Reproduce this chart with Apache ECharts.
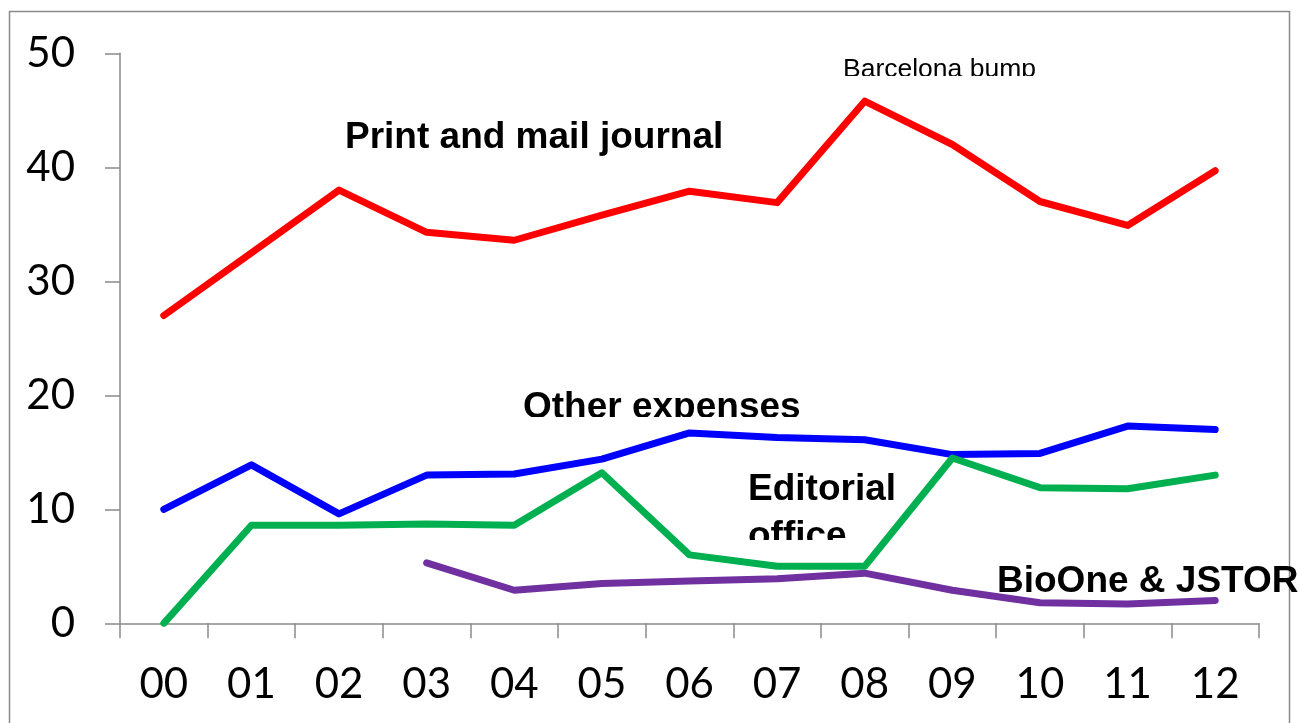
<!DOCTYPE html>
<html>
<head>
<meta charset="utf-8">
<title>Journal costs</title>
<script src="https://cdn.jsdelivr.net/npm/echarts@6/dist/echarts.min.js"></script>
<style>
  html, body { margin: 0; padding: 0; background: #ffffff; }
  #chart { width: 1301px; height: 723px; }
</style>
</head>
<body>
<div id="chart"></div>
<script>
// Years (two-digit) along the bottom
const years = ['00', '01', '02', '03', '04', '05', '06', '07', '08', '09', '10', '11', '12'];

// Cost lines
const printMail = [27.0, 32.5, 38.0, 34.3, 33.6, 35.8, 37.9, 36.9, 45.8, 42.0, 37.0, 34.9, 39.7];
const otherExpenses = [10.0, 13.9, 9.6, 13.0, 13.1, 14.4, 16.7, 16.3, 16.1, 14.8, 14.9, 17.3, 17.0];
const editorialOffice = [0.0, 8.6, 8.6, 8.7, 8.6, 13.2, 6.0, 5.0, 5.0, 14.5, 11.9, 11.8, 13.0];
const bioOneJstor = [null, null, null, 5.3, 2.9, 3.5, 3.7, 3.9, 4.4, 2.9, 1.8, 1.7, 2.0];

const yTicks = { min: 0, max: 50, interval: 10 };

const chart = echarts.init(document.getElementById('chart'), null, { renderer: 'canvas' });

const axisGray = '#8a8a8a';
const tickFont = { fontFamily: 'Lato', fontSize: 42, color: '#000000' };
const noteFont = 'bold 37px "Liberation Sans", Arial, sans-serif';

function line(name, data, color) {
  return {
    name: name,
    type: 'line',
    data: data,
    showSymbol: false,
    symbol: 'none',
    z: 3,
    lineStyle: { color: color, width: 7, cap: 'round', join: 'round' }
  };
}

// Annotation text; some boxes are cut off at their lower edge
function note(text, x, y, font) {
  return {
    type: 'text', x: x, y: y, z: 1, z2: 0,
    style: { text: text, font: font, fill: '#000000', align: 'left', verticalAlign: 'middle' }
  };
}
function mask(x, y, w, h) {
  return { type: 'rect', z: 1, z2: 5, shape: { x: x, y: y, width: w, height: h }, style: { fill: '#ffffff' } };
}

chart.setOption({
  animation: false,
  backgroundColor: '#ffffff',
  grid: { left: 120, right: 42, top: 53.3, bottom: 99.7, containLabel: false },
  xAxis: {
    type: 'category',
    data: years,
    boundaryGap: true,
    axisLine: { show: true, lineStyle: { color: axisGray, width: 1.5 } },
    axisTick: { show: true, inside: false, length: 15, alignWithLabel: false, lineStyle: { color: axisGray, width: 1.5 } },
    axisLabel: Object.assign({ margin: 40 }, tickFont),
    splitLine: { show: false }
  },
  yAxis: {
    type: 'value',
    min: yTicks.min,
    max: yTicks.max,
    interval: yTicks.interval,
    axisLine: { show: true, lineStyle: { color: axisGray, width: 1.5 } },
    axisTick: { show: true, inside: false, length: 15, lineStyle: { color: axisGray, width: 1.5 } },
    axisLabel: Object.assign({ margin: 45 }, tickFont),
    splitLine: { show: false }
  },
  series: [
    line('Print and mail journal', printMail, '#ff0000'),
    line('Other expenses', otherExpenses, '#0000ff'),
    line('Editorial office', editorialOffice, '#00b050'),
    line('BioOne & JSTOR', bioOneJstor, '#7030a0')
  ],
  graphic: [
    {
      type: 'rect', z: 0, z2: 0,
      shape: { x: 9.5, y: 11.5, width: 1280, height: 760 },
      style: { fill: 'none', stroke: '#8a8a8a', lineWidth: 1.5 }
    },
    note('Barcelona bump', 843, 70, '26.5px "Liberation Sans", Arial, sans-serif'),
    mask(835, 76, 210, 14),
    note('Print and mail journal', 345, 138, noteFont),
    note('Other expenses', 523, 408, noteFont),
    mask(515, 417, 300, 11),
    note('Editorial', 748, 490, noteFont),
    note('office', 748, 537, noteFont),
    mask(740, 540, 170, 12),
    note('BioOne & JSTOR', 997, 582, noteFont)
  ]
});
</script>
</body>
</html>
